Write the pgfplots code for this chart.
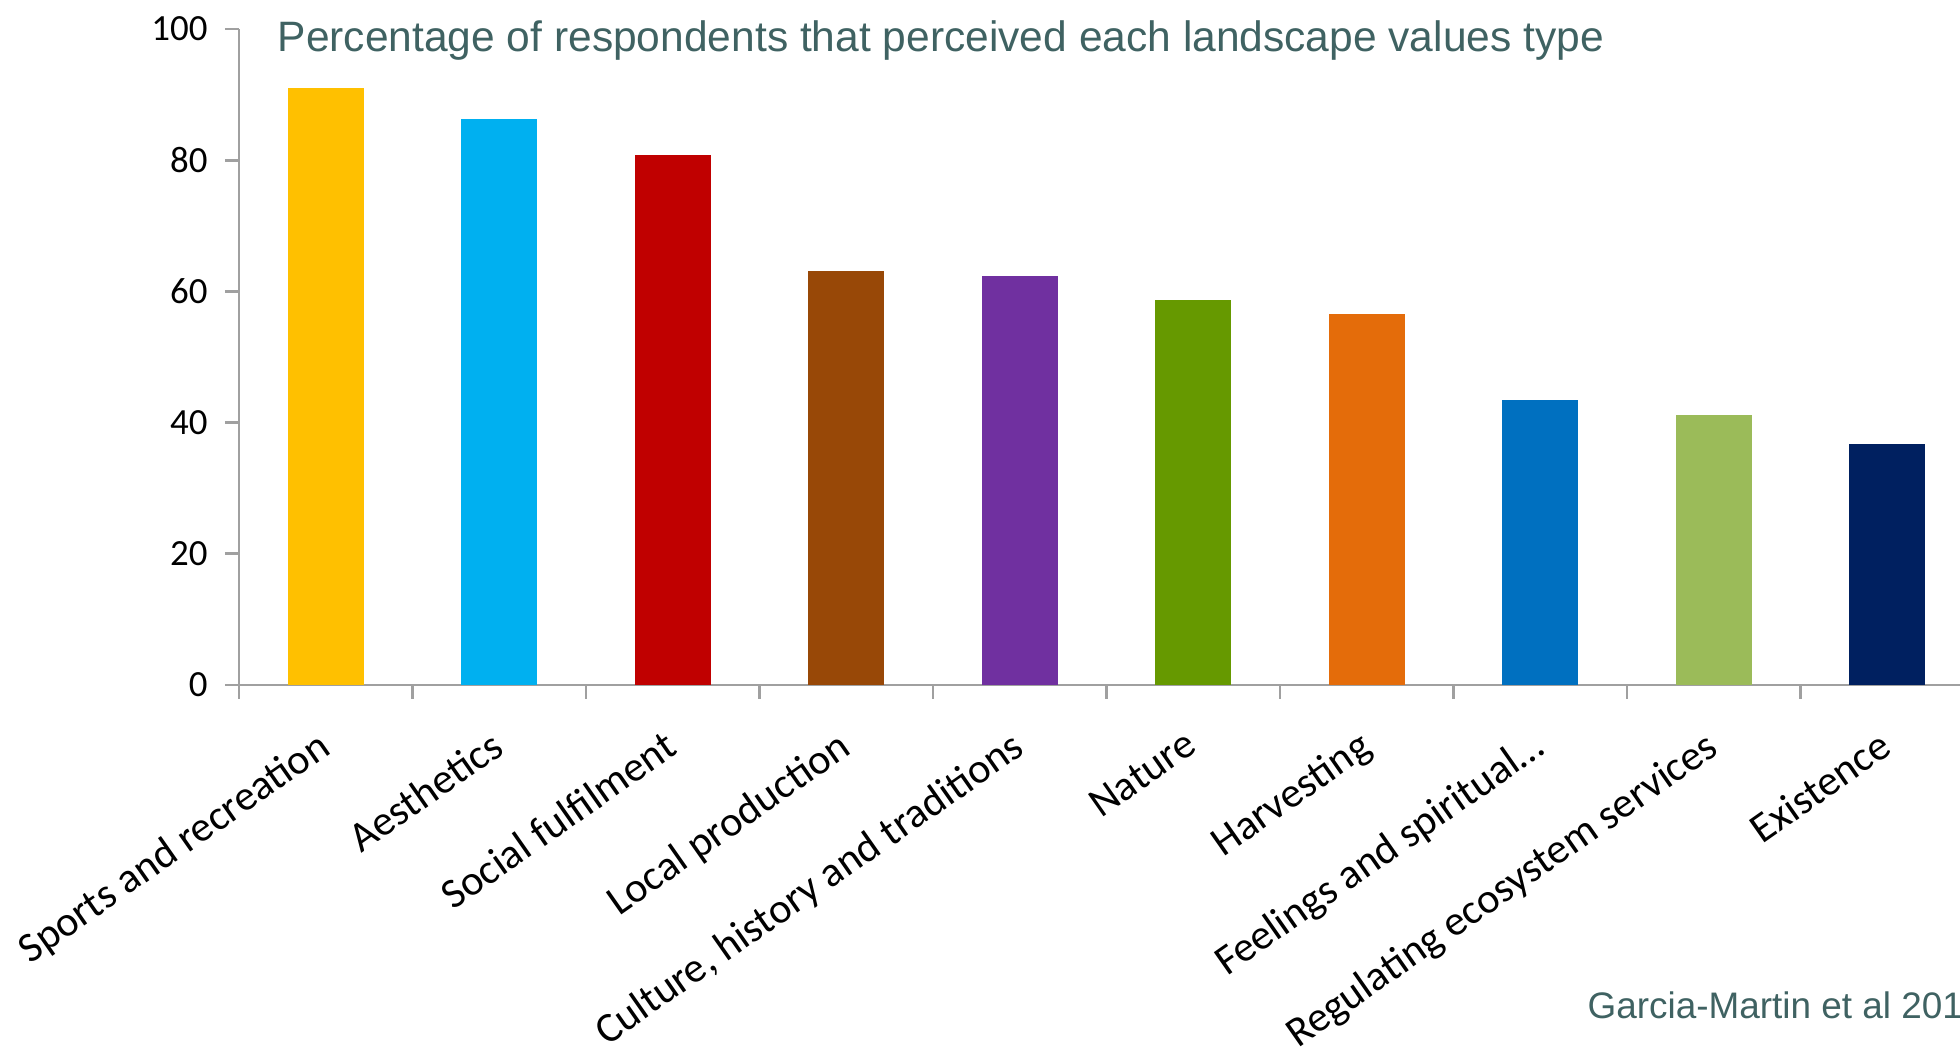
\documentclass[border=0pt]{standalone}
\usepackage{fontspec}
\setmainfont{Carlito}
\newfontfamily\arialfont{Liberation Sans}
\usepackage{pgfplots}
\pgfplotsset{compat=1.18}
\definecolor{c1}{HTML}{FFC000}
\definecolor{c2}{HTML}{00B0F0}
\definecolor{c3}{HTML}{C00000}
\definecolor{c4}{HTML}{984807}
\definecolor{c5}{HTML}{7030A0}
\definecolor{c6}{HTML}{669900}
\definecolor{c7}{HTML}{E46C0A}
\definecolor{c8}{HTML}{0070C0}
\definecolor{c9}{HTML}{9BBB59}
\definecolor{c10}{HTML}{002060}
\definecolor{titlecol}{HTML}{3F6262}
\definecolor{axcol}{HTML}{A0A0A0}
\begin{document}
\begin{tikzpicture}
\path[use as bounding box] (-2.39cm,-3.64cm) rectangle (17.21cm,6.85cm);
\clip (-2.39cm,-3.64cm) rectangle (17.21cm,6.85cm);
\begin{axis}[
  at={(0cm,0cm)}, anchor=south west,
  scale only axis, width=17.35cm, height=6.56cm,
  ybar, bar width=0.76cm,
  every axis plot/.append style={bar shift=0pt, draw=none},
  xmin=0.5, xmax=10.5, ymin=0, ymax=100,
  axis x line=bottom, axis y line=left,
  axis line style={draw=axcol, line width=0.8pt, -},
  tick align=outside,
  ytick={0,20,40,60,80,100},
  major tick length=0.14cm,
  minor tick length=0.14cm,
  xtick={1,2,3,4,5,6,7,8,9,10},
  major x tick style={draw=none},
  minor xtick={0.5,1.5,2.5,3.5,4.5,5.5,6.5,7.5,8.5,9.5,10.5},
  tick style={draw=axcol, line width=0.8pt},
  xticklabels={Sports and recreation, Aesthetics, Social fulfilment, Local production, {Culture, history and traditions}, Nature, Harvesting, Feelings and spiritual\ldots, Regulating ecosystem services, Existence},
  xticklabel style={rotate=35, anchor=north east, font=\fontsize{12}{14}\selectfont, yshift=-0.06cm, xshift=-0.13cm},
  yticklabel style={font=\fontsize{10.5}{12}\selectfont, xshift=-0.05cm},
  /pgf/number format/assume math mode=true,
  clip=false,
]
\addplot[fill=c1] coordinates {(1,91.0)};
\addplot[fill=c2] coordinates {(2,86.3)};
\addplot[fill=c3] coordinates {(3,80.8)};
\addplot[fill=c4] coordinates {(4,63.1)};
\addplot[fill=c5] coordinates {(5,62.3)};
\addplot[fill=c6] coordinates {(6,58.7)};
\addplot[fill=c7] coordinates {(7,56.5)};
\addplot[fill=c8] coordinates {(8,43.4)};
\addplot[fill=c9] coordinates {(9,41.1)};
\addplot[fill=c10] coordinates {(10,36.7)};
\end{axis}
\node[anchor=base west, inner sep=0pt, text=titlecol, font=\arialfont\fontsize{12.1}{14}\selectfont] at (0.38cm,6.33cm) {Percentage of respondents that perceived each landscape values type};
\node[anchor=base west, inner sep=0pt, text=titlecol, font=\arialfont\fontsize{10.5}{13}\selectfont] at (13.48cm,-3.34cm) {Garcia-Martin et al 201};
\end{tikzpicture}
\end{document}
